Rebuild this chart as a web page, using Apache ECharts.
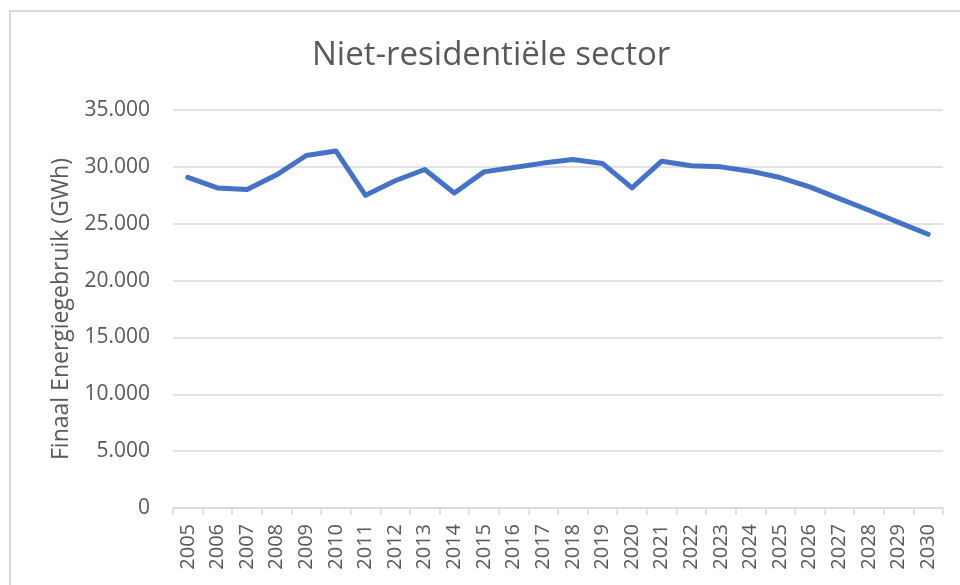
<!DOCTYPE html>
<html>
<head>
<meta charset="utf-8">
<script src="https://cdn.jsdelivr.net/npm/echarts@6/dist/echarts.min.js"></script>
<style>
  html, body { margin: 0; padding: 0; background: #ffffff; }
  #chart { width: 960px; height: 585px; }
</style>
</head>
<body>
<div id="chart"></div>
<script>
// Final energy use of the non-residential sector, GWh per year
const years = ['2005','2006','2007','2008','2009','2010','2011','2012','2013','2014',
               '2015','2016','2017','2018','2019','2020','2021','2022','2023','2024',
               '2025','2026','2027','2028','2029','2030'];
const energyGWh = [29080, 28150, 28000, 29300, 31000, 31400, 27500, 28780, 29770, 27700,
                   29560, 29950, 30330, 30650, 30300, 28150, 30500, 30090, 30000, 29620,
                   29060, 28240, 27210, 26180, 25120, 24070];

const chartTitle = 'Niet-residentiële sector';
const yAxisTitle = 'Finaal Energiegebruik (GWh)';

const FONT = '"Open Sans", sans-serif';
const TEXT = '#595959';
const GRIDLINE = '#d9d9d9';

// Dutch thousands separator: 35000 -> 35.000
function fmtNL(v) {
  return String(Math.round(v)).replace(/\B(?=(\d{3})+(?!\d))/g, '.');
}

const chart = echarts.init(document.getElementById('chart'), null, { renderer: 'canvas' });

chart.setOption({
  backgroundColor: '#ffffff',
  animation: false,
  title: {
    text: chartTitle,
    left: 307,
    top: 34,
    textStyle: { fontFamily: FONT, fontSize: 33, fontWeight: 'normal', color: TEXT }
  },
  graphic: [{
    type: 'rect',
    shape: { x: 10, y: 11, width: 1000, height: 700 },
    style: { fill: 'none', stroke: GRIDLINE, lineWidth: 2 },
    silent: true,
    z: -1
  }],
  grid: { left: 173, right: 17, top: 110, bottom: 77, containLabel: false },
  xAxis: {
    type: 'category',
    data: years,
    boundaryGap: true,
    axisLine: { show: true, lineStyle: { color: GRIDLINE, width: 1.5 } },
    axisTick: { show: true, alignWithLabel: false, length: 7, lineStyle: { color: GRIDLINE, width: 1.5 } },
    axisLabel: {
      rotate: 90,
      margin: 16,
      interval: 0,
      fontFamily: FONT,
      fontSize: 20,
      color: TEXT
    },
    splitLine: { show: false }
  },
  yAxis: {
    type: 'value',
    min: 0,
    max: 35000,
    interval: 5000,
    name: yAxisTitle,
    nameLocation: 'middle',
    nameRotate: 90,
    nameGap: 100,
    nameTextStyle: { fontFamily: FONT, fontSize: 23, color: TEXT },
    axisLine: { show: false },
    axisTick: { show: false },
    axisLabel: {
      margin: 23,
      fontFamily: FONT,
      fontSize: 21,
      color: TEXT,
      formatter: fmtNL
    },
    splitLine: { show: true, lineStyle: { color: GRIDLINE, width: 1.5 } }
  },
  series: [{
    type: 'line',
    data: energyGWh,
    symbol: 'none',
    smooth: false,
    lineStyle: { color: '#4472C4', width: 5, join: 'round', cap: 'round' },
    itemStyle: { color: '#4472C4' }
  }]
});
</script>
</body>
</html>
